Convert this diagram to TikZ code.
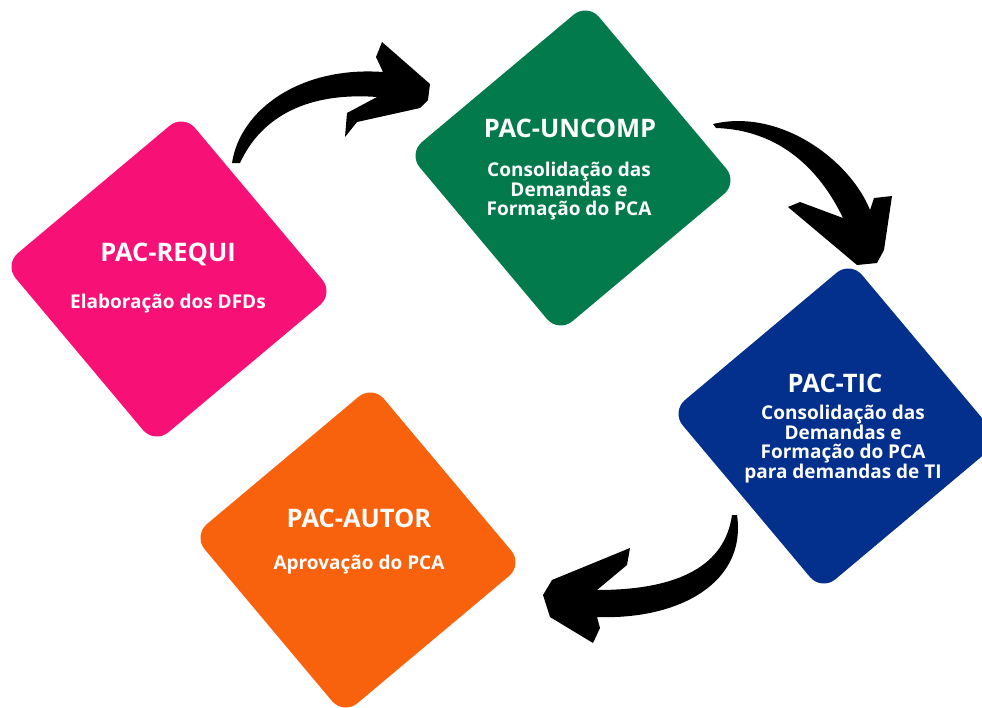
\documentclass[tikz,border=0pt]{standalone}
\usepackage{fontspec}
\setmainfont{Open Sans}
\definecolor{cpink}{HTML}{F71176}
\definecolor{cgreen}{HTML}{037A4C}
\definecolor{cblue}{HTML}{032F8D}
\definecolor{corange}{HTML}{F9620C}
\begin{document}
\begin{tikzpicture}[x=1pt,y=-1pt,
  card/.style={rectangle, rounded corners=18pt, minimum size=234pt, inner sep=0pt, outer sep=0pt, rotate=40, draw=none},
  ttl/.style={text=white, font=\bfseries\fontsize{25.5}{27}\selectfont, anchor=base, inner sep=0pt},
  sub/.style={text=white, font=\bfseries\fontsize{19}{18.5}\selectfont, anchor=base, inner sep=0pt, align=center},
  fatarrow/.style={fill=black, draw=none}]
\useasboundingbox (0,0) rectangle (982,707);
\clip (0,0) rectangle (982,707);

% cards
\node[card, fill=cpink] (requi) at (169,279) {};
\node[card, fill=cgreen] (uncomp) at (573,168) {};
\node[card, fill=cblue] (tic) at (836,426) {};
\node[card, fill=corange] (autor) at (358,550) {};

% texts (base anchor = baseline of last line)
\node[ttl] (requiT) at (168,261) {PAC-REQUI};
\node[sub] (requiS) at (168,308) {Elaboração dos DFDs};

\node[ttl] (uncompT) at (570,137) {PAC-UNCOMP};
\node[sub] (uncompS) at (569,215) {Consolidação das\\Demandas e\\Formação do PCA};

\node[ttl] (ticT) at (835,392) {PAC-TIC};
\node[sub] (ticS) at (843,478) {Consolidação das\\Demandas e\\Formação do PCA\\para demandas de TI};

\node[ttl] (autorT) at (359,527) {PAC-AUTOR};
\node[sub] (autorS) at (359,569) {Aprovação do PCA};

% arrow 1 : requi -> uncomp
\fill[fatarrow] (232,163) .. controls (240,110) and (300,66) .. (383,72)
  -- (376,57) -- (382,42) -- (430,84) -- (428,100) -- (420,108)
  -- (357,122) -- (345,137) -- (347,113) -- (377,97)
  .. controls (310,92) and (262,115) .. (240,163) -- cycle;

% arrow 2 : uncomp -> tic
\fill[fatarrow] (713,124) .. controls (780,108) and (850,160) .. (870,210)
  -- (874,198) -- (892,196) -- (884,250) -- (877,263) -- (857,265)
  -- (788,207) -- (800,202) -- (843,218)
  .. controls (820,170) and (780,130) .. (716,128) -- cycle;

% arrow 3 : tic -> autor
\fill[fatarrow] (737,515) .. controls (747,582) and (680,620) .. (597,617)
  -- (600,628) -- (593,643) -- (550,617) -- (543,595) -- (552,580)
  -- (630,548) -- (627,565) -- (597,590)
  .. controls (680,590) and (725,565) .. (732,515) -- cycle;
\end{tikzpicture}
\end{document}
